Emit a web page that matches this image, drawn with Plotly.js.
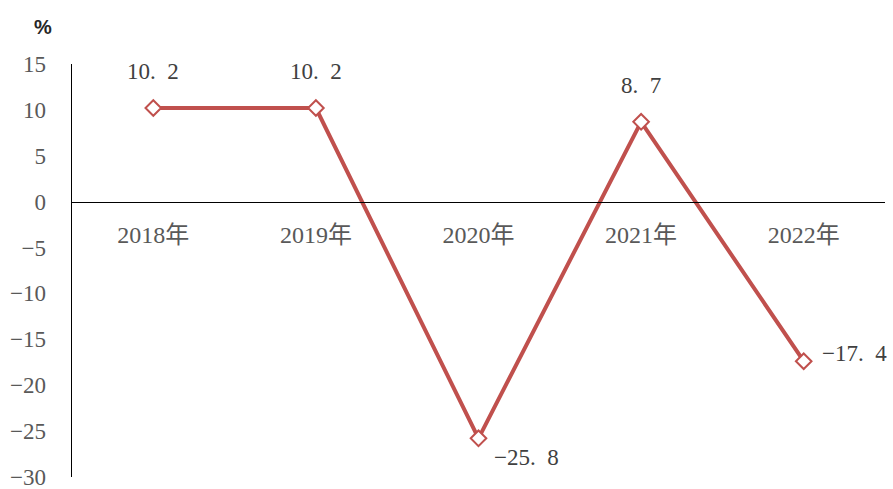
<!DOCTYPE html>
<html><head><meta charset="utf-8">
<script src="https://cdn.plot.ly/plotly-3.0.1.min.js"></script>
<style>html,body{margin:0;padding:0;background:#fff}</style>
</head><body><div id="c" style="width:893px;height:489px"></div>
<script>
const years = ["2018年","2019年","2020年","2021年","2022年"];
const growth = [10.2, 10.2, -25.8, 8.7, -17.4];
const yTicks = [15,10,5,0,-5,-10,-15,-20,-25,-30];

const fnt = '"Liberation Serif", "Noto Sans CJK SC", serif';
const labelPos = [
  {xs:0, ys:37}, {xs:0, ys:37}, {xs:48, ys:-19}, {xs:0, ys:36}, {xs:51, ys:8}
];
const fmt = v => (v<0?'−':'') + Math.abs(v).toFixed(1).replace('.', '.\u2002');
const annotations = growth.map((v,i)=>({
  x: years[i], y: v, xref:'x', yref:'y',
  text: fmt(v), showarrow:false,
  xshift: labelPos[i].xs, yshift: labelPos[i].ys,
  font:{family:fnt, size:23, color:'#404040'}
}));
annotations.push({xref:'paper', yref:'paper', x:-0.036, y:1.09, xanchor:'center', yanchor:'middle',
  text:'<b>%</b>', showarrow:false,
  font:{family:'"Liberation Sans", "Noto Sans", sans-serif', size:20, color:'#262626'}});

Plotly.newPlot('c', [{
  x: years, y: growth, type:'scatter', mode:'lines+markers',
  line:{color:'#C0504D', width:4},
  marker:{symbol:'diamond', size:12, color:'#ffffff', line:{color:'#C0504D', width:2}},
  cliponaxis:false, hoverinfo:'skip'
}], {
  width:893, height:489,
  margin:{l:72, r:8, t:64, b:12},
  paper_bgcolor:'#fff', plot_bgcolor:'#fff',
  showlegend:false,
  xaxis:{type:'category', range:[-0.5,4.5], anchor:'free', position:2/3,
    showline:true, linecolor:'#000', linewidth:1.5, showgrid:false, zeroline:false,
    ticks:'outside', ticklen:11, tickcolor:'rgba(0,0,0,0)',
    tickfont:{family:fnt, size:24, color:'#595959'}},
  yaxis:{range:[-30.02,15], tickvals:yTicks, ticktext:yTicks.map(v=>v<0?'−'+(-v):String(v)),
    ticklabeloverflow:'allow',
    showline:true, linecolor:'#000', linewidth:1.5, showgrid:false, zeroline:false,
    ticks:'', ticklabelstandoff:20,
    tickfont:{family:fnt, size:23, color:'#595959'}},
  annotations: annotations
}, {staticPlot:true});
</script></body></html>
